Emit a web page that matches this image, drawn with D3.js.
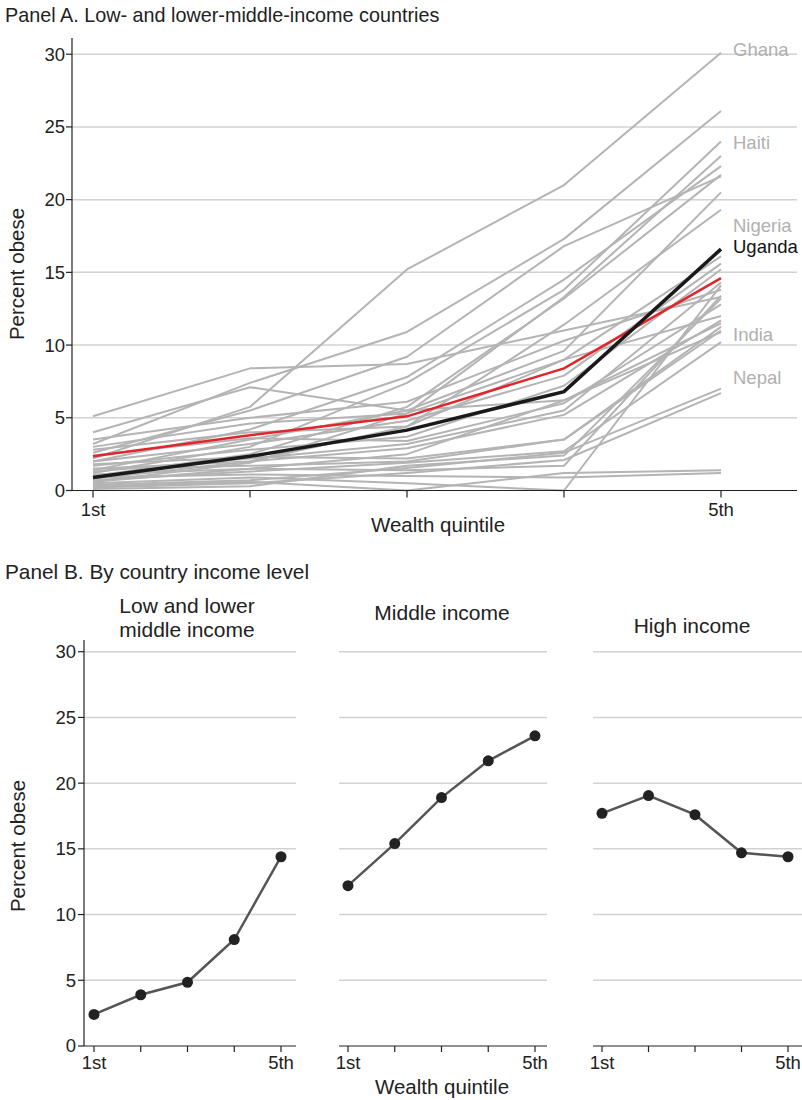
<!DOCTYPE html>
<html><head><meta charset="utf-8">
<script src="https://cdn.jsdelivr.net/npm/d3@7"></script>
<style>
body{margin:0;background:#fff;}
text{font-family:"Liberation Sans",Arial,sans-serif;}
</style></head>
<body><svg id="c" width="802" height="1100"></svg>
<script>
// ---------- DATA ----------
const quintiles = [1, 2, 3, 4, 5];
const quintileLabels = {1: "1st", 5: "5th"};
const yTicks = [0, 5, 10, 15, 20, 25, 30];

// Panel A: gray country lines (percent obese by wealth quintile)
const countryLines = [
  [2.2, 5.75, 15.2, 21.0, 30.1],
  [3.2, 7.4, 10.9, 17.3, 26.1],
  [1.2, 3.0, 7.4, 13.8, 24.0],
  [0.6, 1.9, 5.3, 13.3, 23.0],
  [2.0, 4.2, 7.8, 14.5, 22.3],
  [1.0, 2.5, 5.75, 13.2, 21.7],
  [2.6, 5.5, 9.2, 16.8, 21.6],
  [1.4, 3.5, 5.5, 9.6, 20.5],
  [0.8, 2.0, 4.4, 11.4, 19.3],
  [5.1, 8.4, 8.7, 11.0, 13.3],
  [4.0, 7.1, 5.5, 6.2, 10.9],
  [3.5, 5.0, 6.1, 10.3, 13.8],
  [3.0, 4.6, 5.3, 9.0, 16.1],
  [2.0, 3.2, 4.8, 7.9, 15.6],
  [1.7, 2.8, 3.7, 7.2, 15.2],
  [1.3, 2.2, 3.2, 5.5, 14.3],
  [0.3, 0.6, 0.0, 1.2, 1.4],
  [0.5, 0.9, 0.5, 0.0, 14.1],
  [0.9, 1.1, 1.0, 0.9, 1.2],
  [1.5, 2.0, 2.9, 5.2, 11.7],
  [1.1, 1.5, 2.5, 6.2, 11.5],
  [1.8, 2.3, 2.2, 3.5, 11.25],
  [0.7, 1.3, 1.9, 2.7, 10.2],
  [0.4, 0.7, 1.55, 2.6, 7.0],
  [0.2, 0.5, 1.2, 2.1, 6.7],
  [2.8, 4.0, 4.4, 9.0, 12.0],
  [0.1, 0.3, 1.7, 2.4, 13.2],
  [1.5, 1.7, 2.0, 3.5, 11.0],
  [0.6, 1.5, 1.4, 1.7, 13.4],
  [2.4, 3.6, 3.4, 6.0, 12.8]
];
const averageLine = [2.35, 3.8, 5.1, 8.4, 14.6];
const ugandaLine = [0.9, 2.35, 4.15, 6.8, 16.6];

const countryNames = ["Ghana", "Haiti", "Nigeria", "Uganda", "India", "Nepal"];
const countryLabelValues = [30.3, 23.9, 18.25, 16.8, 10.75, 7.8];
const countryLabelDark = [false, false, false, true, false, false];

// Panel B
const incomeGroups = ["Low and lower\nmiddle income", "Middle income", "High income"];
const incomeValues = [
  [2.4, 3.9, 4.85, 8.1, 14.4],
  [12.2, 15.4, 18.9, 21.7, 23.6],
  [17.7, 19.05, 17.6, 14.7, 14.4]
];

// ---------- DRAW ----------
const svg = d3.select("#c");
const gridCol = "#d2d2d2", grayLine = "#b4b4b4", axisCol = "#222";
const tickFont = 18.5, titleFont = 20.5;

// Panel A
const ax = d3.scaleLinear().domain([1, 5]).range([93, 721]);
const ay = d3.scaleLinear().domain([0, 30]).range([490.5, 54.2]);
const axL = 72, axR = 797;

svg.append("text").attr("x", 5).attr("y", 22).attr("font-size", 19.8).attr("fill", "#222")
  .text("Panel A. Low- and lower-middle-income countries");

const gA = svg.append("g");
gA.selectAll("line.grid").data(yTicks.filter(d => d > 0)).join("line")
  .attr("x1", axL).attr("x2", axR).attr("y1", d => ay(d)).attr("y2", d => ay(d))
  .attr("stroke", gridCol).attr("stroke-width", 1.5);

const lineA = d3.line().x((d, i) => ax(quintiles[i])).y(d => ay(d));
gA.selectAll("path.country").data(countryLines).join("path")
  .attr("d", lineA).attr("fill", "none").attr("stroke", grayLine).attr("stroke-width", 2)
  .attr("stroke-linejoin", "round");
gA.append("path").attr("d", lineA(averageLine)).attr("fill", "none")
  .attr("stroke", "#e0262b").attr("stroke-width", 2.5);
gA.append("path").attr("d", lineA(ugandaLine)).attr("fill", "none")
  .attr("stroke", "#1a1a1a").attr("stroke-width", 3.5);

gA.selectAll("text.clab").data(countryNames).join("text")
  .attr("x", 733).attr("y", (d, i) => ay(countryLabelValues[i]))
  .attr("dy", "0.35em").attr("font-size", 18.5)
  .attr("fill", (d, i) => countryLabelDark[i] ? "#111" : "#b0b0b0").text(d => d);

// axes A
gA.append("line").attr("x1", axL).attr("x2", axL).attr("y1", 38).attr("y2", ay(0))
  .attr("stroke", axisCol).attr("stroke-width", 1.2);
gA.append("line").attr("x1", axL).attr("x2", axR).attr("y1", ay(0)).attr("y2", ay(0))
  .attr("stroke", axisCol).attr("stroke-width", 1.2);
gA.selectAll("line.yt").data(yTicks).join("line")
  .attr("x1", axL - 6).attr("x2", axL).attr("y1", d => ay(d)).attr("y2", d => ay(d))
  .attr("stroke", axisCol).attr("stroke-width", 1.2);
gA.selectAll("text.yl").data(yTicks).join("text")
  .attr("x", axL - 7).attr("y", d => ay(d)).attr("dy", "0.35em").attr("text-anchor", "end")
  .attr("font-size", tickFont).attr("fill", "#222").text(d => d);
gA.selectAll("line.xt").data(quintiles).join("line")
  .attr("x1", d => ax(d)).attr("x2", d => ax(d)).attr("y1", ay(0)).attr("y2", ay(0) + 7)
  .attr("stroke", axisCol).attr("stroke-width", 1.2);
gA.selectAll("text.xl").data(quintiles.filter(q => quintileLabels[q])).join("text")
  .attr("x", d => ax(d)).attr("y", 516).attr("text-anchor", "middle")
  .attr("font-size", tickFont).attr("fill", "#222").text(d => quintileLabels[d]);
gA.append("text").attr("x", 438).attr("y", 532).attr("text-anchor", "middle")
  .attr("font-size", titleFont).attr("fill", "#222").text("Wealth quintile");
gA.append("text").attr("transform", "translate(24,274) rotate(-90)").attr("text-anchor", "middle")
  .attr("font-size", titleFont).attr("fill", "#222").text("Percent obese");

// Panel B
svg.append("text").attr("x", 5).attr("y", 579).attr("font-size", 20.8).attr("fill", "#222")
  .text("Panel B. By country income level");

const by = d3.scaleLinear().domain([0, 30]).range([1046, 651.7]);
const subX = [[94, 281], [348, 535], [602, 788]];
const subGrid = [[84, 296], [339, 547], [593, 802]];
const titleX = [187, 442, 692];
const titleY = [[613, 637], [620], [633]];

incomeGroups.forEach((name, k) => {
  const g = svg.append("g");
  const sx = d3.scaleLinear().domain([1, 5]).range(subX[k]);
  const [gl, gr] = subGrid[k];
  g.selectAll("line.grid").data(yTicks.filter(d => d > 0)).join("line")
    .attr("x1", gl).attr("x2", gr).attr("y1", d => by(d)).attr("y2", d => by(d))
    .attr("stroke", gridCol).attr("stroke-width", 1.5);
  g.append("line").attr("x1", gl).attr("x2", gr).attr("y1", by(0)).attr("y2", by(0))
    .attr("stroke", axisCol).attr("stroke-width", 1.2);
  g.selectAll("line.xt").data(quintiles).join("line")
    .attr("x1", d => sx(d)).attr("x2", d => sx(d)).attr("y1", by(0)).attr("y2", by(0) + 6)
    .attr("stroke", axisCol).attr("stroke-width", 1.2);
  g.selectAll("text.xl").data(quintiles.filter(q => quintileLabels[q])).join("text")
    .attr("x", d => sx(d)).attr("y", 1069).attr("text-anchor", "middle")
    .attr("font-size", tickFont).attr("fill", "#222").text(d => quintileLabels[d]);
  name.split("\n").forEach((t, j) => {
    g.append("text").attr("x", titleX[k]).attr("y", titleY[k][j]).attr("text-anchor", "middle")
      .attr("font-size", 21).attr("fill", "#222").text(t);
  });
  const ln = d3.line().x((d, i) => sx(quintiles[i])).y(d => by(d));
  g.append("path").attr("d", ln(incomeValues[k])).attr("fill", "none")
    .attr("stroke", "#555").attr("stroke-width", 2.5);
  g.selectAll("circle").data(incomeValues[k]).join("circle")
    .attr("cx", (d, i) => sx(quintiles[i])).attr("cy", d => by(d)).attr("r", 5.5)
    .attr("fill", "#222");
  if (k === 0) {
    g.append("line").attr("x1", gl).attr("x2", gl).attr("y1", 640).attr("y2", by(0))
      .attr("stroke", axisCol).attr("stroke-width", 1.2);
    g.selectAll("line.yt").data(yTicks).join("line")
      .attr("x1", gl - 6).attr("x2", gl).attr("y1", d => by(d)).attr("y2", d => by(d))
      .attr("stroke", axisCol).attr("stroke-width", 1.2);
    g.selectAll("text.yl").data(yTicks).join("text")
      .attr("x", gl - 8).attr("y", d => by(d)).attr("dy", "0.35em").attr("text-anchor", "end")
      .attr("font-size", tickFont).attr("fill", "#222").text(d => d);
  }
});
svg.append("text").attr("x", 442).attr("y", 1094).attr("text-anchor", "middle")
  .attr("font-size", titleFont).attr("fill", "#222").text("Wealth quintile");
svg.append("text").attr("transform", "translate(25,846) rotate(-90)").attr("text-anchor", "middle")
  .attr("font-size", titleFont).attr("fill", "#222").text("Percent obese");
</script></body></html>
